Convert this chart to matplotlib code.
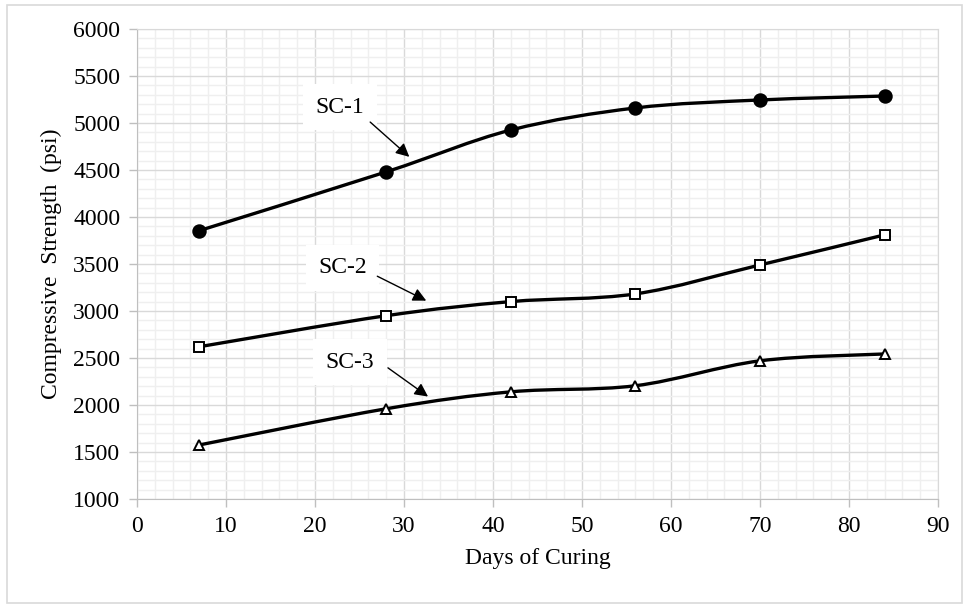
import numpy as np
import matplotlib
matplotlib.use('Agg')
import matplotlib.pyplot as plt
from matplotlib.path import Path
from matplotlib.patches import PathPatch, Rectangle
from matplotlib.ticker import MultipleLocator

plt.rcParams['font.family'] = ['Liberation Serif', 'DejaVu Serif']

days = [7, 28, 42, 56, 70, 84]
sc1 = [3855, 4480, 4925, 5160, 5245, 5287]
sc2 = [2620, 2950, 3100, 3182, 3490, 3810]
sc3 = [1575, 1960, 2140, 2205, 2470, 2543]

labels = ['SC-1', 'SC-2', 'SC-3']
label_xy = [(22.8, 5170), (23.1, 3460), (23.9, 2455)]
arrow_from = [(26.2, 5010), (27.0, 3370), (28.2, 2395)]
arrow_to = [(30.6, 4640), (32.5, 3110), (32.7, 2090)]


def smooth_path(xs, ys):
	# excel-style smoothed line: catmull-rom as cubic bezier segments
	p = np.column_stack([xs, ys]).astype(float)
	n = len(p)
	verts = [p[0]]
	codes = [Path.MOVETO]
	for i in range(n - 1):
		p0 = p[i - 1] if i > 0 else p[i]
		p3 = p[i + 2] if i + 2 < n else p[i + 1]
		c1 = p[i] + (p[i + 1] - p0) / 6.0
		c2 = p[i + 1] - (p3 - p[i]) / 6.0
		verts += [c1, c2, p[i + 1]]
		codes += [Path.CURVE4] * 3
	return Path(verts, codes)


fig = plt.figure(figsize=(9.64, 6.05), dpi=100)
ax = fig.add_axes([137/964, 1-499/605, (938-137)/964, (499-29)/605])

for ys, mk, fc in [(sc1, 'o', 'black'), (sc2, 's', 'white'), (sc3, '^', 'white')]:
	ax.add_patch(PathPatch(smooth_path(days, ys), facecolor='none', edgecolor='black', lw=2.4, zorder=3))
	ms = 9 if mk == 'o' else 7.5
	ax.plot(days, ys, linestyle='none', marker=mk, markersize=ms, markerfacecolor=fc,
			markeredgecolor='black', markeredgewidth=1.4, zorder=4)

for lab, txy, a0, a1 in zip(labels, label_xy, arrow_from, arrow_to):
	ax.text(txy[0], txy[1], lab, fontsize=17, ha='center', va='center', zorder=5,
			bbox=dict(facecolor='white', edgecolor='none', pad=9))
	ax.annotate('', xy=a1, xytext=a0, zorder=6,
				arrowprops=dict(arrowstyle='-|>', color='black', lw=1.0, mutation_scale=20,
								shrinkA=0, shrinkB=0))

ax.set_xlim(0, 90)
ax.set_ylim(1000, 6000)
ax.xaxis.set_major_locator(MultipleLocator(10))
ax.xaxis.set_minor_locator(MultipleLocator(2))
ax.yaxis.set_major_locator(MultipleLocator(500))
ax.yaxis.set_minor_locator(MultipleLocator(100))
ax.grid(which='major', color='#d9d9d9', lw=1.0, zorder=0)
ax.grid(which='minor', color='#efefef', lw=1.0, zorder=0)
ax.set_axisbelow(True)
ax.tick_params(which='major', direction='out', length=6, width=1, color='#bfbfbf', labelsize=17, pad=6)
ax.tick_params(which='minor', length=0)
for s in ax.spines.values():
	s.set_color('#d9d9d9')
ax.spines['left'].set_color('#bfbfbf')
ax.spines['bottom'].set_color('#bfbfbf')

ax.set_xlabel('Days of Curing', fontsize=17, labelpad=8)
ax.set_ylabel('Compressive  Strength  (psi)', fontsize=17, labelpad=8)

fig.patches.append(Rectangle((7/964, 1-603/605), (962-7)/964, (603-5)/605, transform=fig.transFigure,
							 facecolor='none', edgecolor='#d9d9d9', lw=1.2))

plt.savefig('out.png', dpi=100)
